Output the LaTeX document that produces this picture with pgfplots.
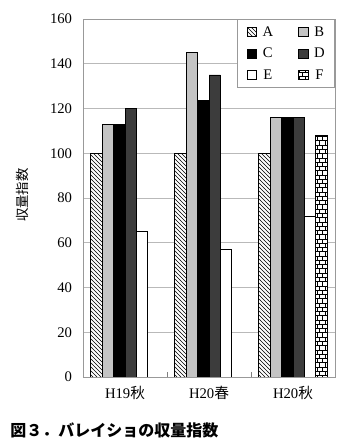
\documentclass[border=0pt]{standalone}
\usepackage{fontspec}
\setmainfont{Liberation Serif}
\newfontfamily\cjk{Noto Sans CJK JP}
\usepackage{pgfplots}
\pgfplotsset{compat=1.18}
\usetikzlibrary{patterns}
\definecolor{lgray}{HTML}{C4C4C4}
\definecolor{dgray}{HTML}{3C3C3C}
\pgfdeclarepatternformonly{smallbricks}{\pgfpoint{-0.5pt}{-0.5pt}}{\pgfpoint{5pt}{7pt}}{\pgfpoint{4.4pt}{6.4pt}}{%
  \pgfsetlinewidth{0.45pt}%
  \pgfpathmoveto{\pgfpoint{0pt}{0pt}}\pgfpathlineto{\pgfpoint{4.4pt}{0pt}}%
  \pgfpathmoveto{\pgfpoint{0pt}{3.2pt}}\pgfpathlineto{\pgfpoint{4.4pt}{3.2pt}}%
  \pgfpathmoveto{\pgfpoint{0pt}{0pt}}\pgfpathlineto{\pgfpoint{0pt}{3.2pt}}%
  \pgfpathmoveto{\pgfpoint{2.2pt}{3.2pt}}\pgfpathlineto{\pgfpoint{2.2pt}{6.4pt}}%
  \pgfusepath{stroke}}
\begin{document}
\begin{tikzpicture}[x=1pt,y=1pt]
\useasboundingbox (-62.25,-53.25) rectangle (201.75,282.75);
\begin{axis}[at={(0,0)}, anchor=south west, scale only axis,
  width=189pt, height=268.5pt,
  ybar=0pt, bar width=8.55pt,
  xmin=-0.5, xmax=2.5, ymin=0, ymax=160,
  ytick={0,20,...,160},
  xtick={0,1,2},
  xticklabels={H19{\cjk 秋},H20{\cjk 春},H20{\cjk 秋}},
  minor xtick={0.5,1.5},
  major tick length=0pt, minor tick length=4pt, tick align=inside,
  tick pos=left,
  minor tick style={gray},
  ymajorgrids, grid style={gray!55, line width=0.5pt},
  axis line style={gray!80, line width=0.6pt},
  /pgf/number format/assume math mode=true,
  tick label style={font=\fontsize{11}{13}\selectfont},
  yticklabel style={inner sep=0pt, xshift=-8pt},
  xticklabel style={inner sep=0pt, yshift=-6.5pt},
  ylabel={収量指数},
  ylabel style={at={(axis description cs:-0.242,0.508)}, anchor=center, font=\cjk\fontsize{10}{12}\selectfont},
  legend columns=2,
  legend style={at={(1,1)}, anchor=north east, draw=gray!80, line width=0.5pt,
    font=\fontsize{11}{13}\selectfont, inner xsep=7.5pt, inner ysep=5pt,
    nodes={inner sep=0pt, text height=8pt, text depth=1pt},
    /tikz/every odd column/.append style={column sep=4.5pt},
    /tikz/every even column/.append style={column sep=19pt},
    row sep=7pt},
  legend image code/.code={\draw[#1,draw=black,line width=0.4pt] (0pt,-3.4pt) rectangle (6.8pt,3.4pt);},
  every axis plot/.append style={draw=black, line width=0.5pt},
]
\addplot[fill=white, postaction={pattern=north west lines}] coordinates {(0,100) (1,100) (2,100)};
\addplot[fill=lgray] coordinates {(0,113) (1,145) (2,116)};
\addplot[fill=black] coordinates {(0,113) (1,123.5) (2,116)};
\addplot[fill=dgray] coordinates {(0,120) (1,135) (2,116)};
\addplot[fill=white] coordinates {(0,65) (1,57) (2,72)};
\addplot[fill=white, postaction={pattern=smallbricks}] coordinates {(2,108)};
\legend{A,B,C,D,E,F}
\end{axis}
\node[anchor=west, inner sep=0pt, font=\cjk\bfseries\fontsize{12}{14}\selectfont] at (-54.75,-39.75) {図３．バレイショの収量指数};
\end{tikzpicture}
\end{document}
